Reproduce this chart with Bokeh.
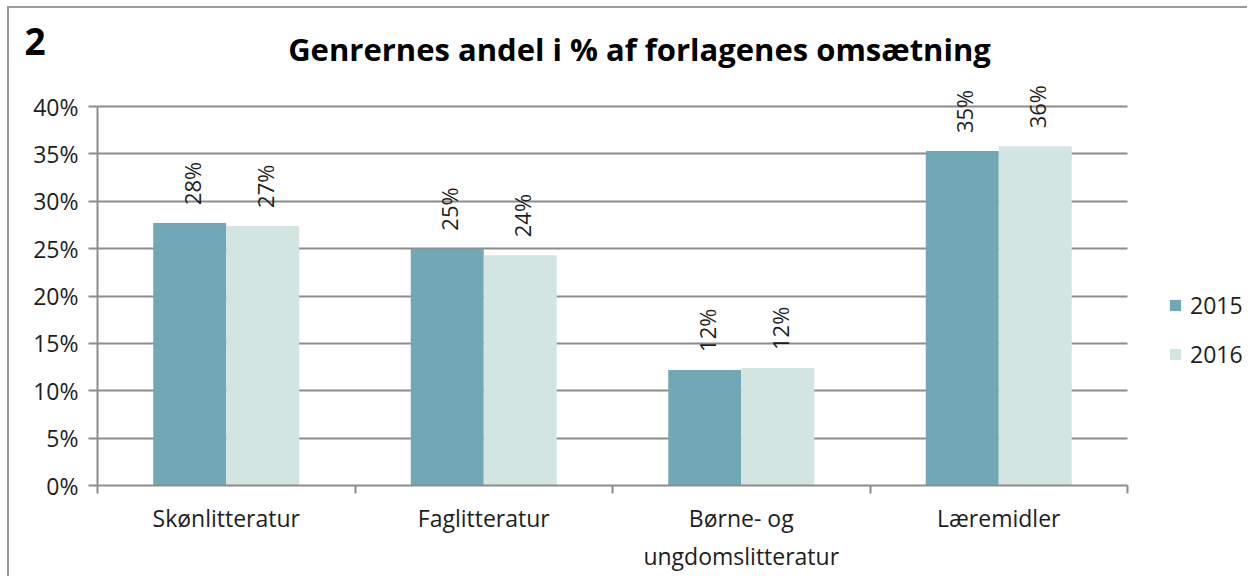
from bokeh.plotting import figure
from bokeh.models import (ColumnDataSource, Range1d, FixedTicker, NumeralTickFormatter,
                          LabelSet, Label, Legend, LegendItem)
from bokeh.transform import dodge
from bokeh.core.properties import value
from bokeh.embed import file_html
from bokeh.resources import INLINE

categories = ["Skønlitteratur", "Faglitteratur", "Børne- og\nungdomslitteratur", "Læremidler"]
years = ["2015", "2016"]
share_2015 = [0.277, 0.250, 0.122, 0.353]
share_2016 = [0.274, 0.243, 0.124, 0.358]
y_ticks = [0.0, 0.05, 0.10, 0.15, 0.20, 0.25, 0.30, 0.35, 0.40]
title_text = "Genrernes andel i % af forlagenes omsætning"
chart_number = "2"

FONT = "Open Sans"
C15 = "#71A8B6"
C16 = "#D3E5E0"
GRID = "#8c8c8c"
TXT = "#1e1e1e"

# layout geometry (page pixels)
CANVAS_X, CANVAS_Y = 9, 8          # canvas origin on page
W, H = 1240, 570
AX_LEFT, AX_RIGHT = 97, 1127       # axis extent for 0..4
AX_TOP, AX_BOTTOM = 106, 485       # 40% and 0%
n = len(categories)
ymax = y_ticks[-1]

frame_w = CANVAS_X + W - AX_LEFT
frame_h = AX_BOTTOM - CANVAS_Y
x_end = n * frame_w / (AX_RIGHT - AX_LEFT)
y_end = ymax * frame_h / (AX_BOTTOM - AX_TOP)

pos = [i + 0.5 for i in range(n)]
src = ColumnDataSource(dict(
    x=pos,
    v15=share_2015,
    v16=share_2016,
    l15=[f"{round(v * 100):.0f}%" for v in share_2015],
    l16=[f"{round(v * 100):.0f}%" for v in share_2016],
))

p = figure(width=W, height=H, output_backend="svg", toolbar_location=None,
           x_range=Range1d(0, x_end), y_range=Range1d(0, y_end),
           min_border_left=AX_LEFT - CANVAS_X, min_border_right=0, min_border_top=0,
           min_border_bottom=CANVAS_Y + H - AX_BOTTOM)
p.styles = {"margin-left": "7px", "margin-top": "6px",
            "border-left": "2px solid #9a9a9a", "border-top": "2px solid #9a9a9a"}
p.outline_line_color = None
p.background_fill_color = "white"
p.border_fill_color = "white"

bw = 0.2835
r15 = p.vbar(x=dodge("x", -bw / 2, range=p.x_range), top="v15", width=bw, source=src,
             fill_color=C15, line_color=None)
r16 = p.vbar(x=dodge("x", bw / 2, range=p.x_range), top="v16", width=bw, source=src,
             fill_color=C16, line_color=None)

for col, off in (("l15", -bw / 2), ("l16", bw / 2)):
    ycol = "v15" if col == "l15" else "v16"
    ls = LabelSet(x=dodge("x", off, range=p.x_range), y=ycol, text=col, source=src,
                  angle=1.5708, y_offset=18, x_offset=2,
                  text_align="left", text_baseline="middle",
                  text_font=value(FONT), text_font_size="22px", text_color=TXT)
    p.add_layout(ls)

# axes
xa = p.xaxis[0]
xa.bounds = (0, n)
xa.ticker = FixedTicker(ticks=pos, minor_ticks=list(range(n + 1)))
xa.major_label_overrides = {p_: c for p_, c in zip(pos, categories)}
xa.major_tick_out = 0
xa.major_tick_in = 0
xa.minor_tick_out = 8
xa.minor_tick_in = 0
xa.minor_tick_line_color = GRID
xa.minor_tick_line_width = 2
xa.axis_line_color = GRID
xa.axis_line_width = 2
xa.major_label_standoff = 8
xa.major_label_text_font = FONT
xa.major_label_text_font_size = "23px"
xa.major_label_text_color = TXT

ya = p.yaxis[0]
ya.bounds = (0, ymax)
ya.ticker = FixedTicker(ticks=y_ticks)
ya.formatter = NumeralTickFormatter(format="0%")
ya.major_tick_out = 9
ya.major_tick_in = 0
ya.minor_tick_line_color = None
ya.major_tick_line_color = GRID
ya.major_tick_line_width = 2
ya.axis_line_color = GRID
ya.axis_line_width = 2
ya.major_label_standoff = 10
ya.major_label_text_font = FONT
ya.major_label_text_font_size = "23px"
ya.major_label_text_color = TXT

p.xgrid.grid_line_color = None
p.ygrid.grid_line_color = GRID
p.ygrid.grid_line_width = 2
p.ygrid.ticker = FixedTicker(ticks=y_ticks)
p.ygrid.cross_bounds = (0, n)

# title (inside frame) and chart number (left panel)
p.add_layout(Label(x=639 - AX_LEFT, y=AX_BOTTOM - 48, x_units="screen", y_units="screen",
                   text=title_text, text_align="center", text_baseline="alphabetic",
                   text_font=FONT, text_font_style="bold", text_font_size="31px",
                   text_color="black"))
p.add_layout(Label(x=15, y=AX_BOTTOM - 41, x_units="screen", y_units="screen",
                   text=chart_number, text_align="left", text_baseline="alphabetic",
                   text_font=FONT, text_font_style="bold", text_font_size="37px",
                   text_color="black"), "left")

legend = Legend(items=[LegendItem(label=years[0], renderers=[r15]),
                       LegendItem(label=years[1], renderers=[r16])],
                location=(1168 - AX_LEFT, 115), orientation="vertical",
                glyph_width=14, glyph_height=14, label_height=24, spacing=17,
                label_standoff=8, padding=0, margin=0,
                border_line_color=None, background_fill_alpha=0,
                label_text_font=FONT, label_text_font_size="23px", label_text_color=TXT)
p.add_layout(legend)

open("out.html", "w").write(file_html(p, INLINE))
